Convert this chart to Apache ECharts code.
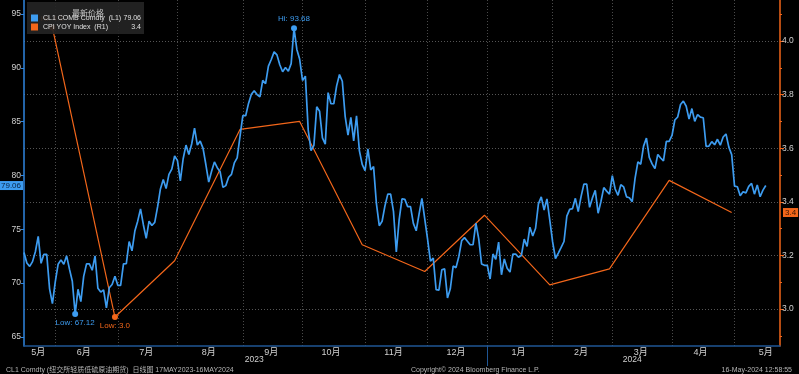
<!DOCTYPE html>
<html><head><meta charset="utf-8">
<script src="https://cdn.jsdelivr.net/npm/echarts@6/dist/echarts.min.js"></script>
<style>html,body{margin:0;padding:0;background:#000}#c{width:799px;height:374px}</style>
</head><body><div id="c"></div>
<script>
// ---- data (weekday closes, CL1 COMB Comdty) ----
const startDate = [2023, 4, 17];   // 17 May 2023 (UTC month index)
const padDays = 5;                  // empty weekdays after the last close
const may23 = [72.83,71.86,71.55,71.99,72.91,74.34,71.83,72.67,72.67,69.46,68.09];
const jun23 = [70.10,71.74,72.15,71.74,72.53,71.29,70.17,67.12,69.42,68.27,70.62,71.78,71.78,71.19,72.53,69.51,69.16,69.37,67.70,69.56,69.86,70.64];
const jul23 = [69.79,69.79,71.79,71.80,73.86,72.99,74.83,75.75,76.89,75.42,74.15,75.75,75.35,75.63,77.07,78.74,79.63,78.78,80.09,80.58,81.80];
const aug23 = [81.37,79.49,81.55,82.82,81.94,82.92,84.40,82.82,83.19,82.51,80.99,79.38,80.39,81.25,80.72,80.35,78.89,79.05,79.83,80.10,81.16,81.63,83.63];
const sep23 = [85.55,85.55,86.69,87.54,87.87,87.51,87.29,88.84,88.52,90.16,90.77,91.48,91.20,90.28,89.63,90.03,89.68,90.39,93.68,91.71,90.79];
const oct23 = [88.82,89.23,84.22,82.31,82.79,86.38,85.97,83.49,82.91,87.69,86.66,86.66,88.32,89.37,88.75,85.49,83.74,85.39,83.21,85.54,82.31,81.02];
const nov23 = [80.44,82.46,80.51,80.82,77.37,75.33,75.74,77.17,78.26,78.26,76.66,72.90,75.89,77.83,77.77,77.10,77.10,75.54,74.86,76.41,77.86,75.96];
const dec23 = [74.07,72.04,72.32,69.38,69.34,71.23,71.32,68.61,69.47,71.58,71.43,72.47,73.94,74.22,73.89,73.56,73.56,75.57,74.11,71.77,71.65];
const jan24 = [71.65,70.38,72.70,72.19,73.81,70.77,72.24,71.37,71.02,72.68,72.68,72.40,72.56,74.08,73.41,75.19,74.37,75.09,77.36,78.01,76.78,77.82,75.85];
const feb24 = [73.82,72.28,72.78,73.31,73.86,76.22,76.84,76.92,77.87,76.64,78.03,79.19,79.19,77.04,77.91,78.61,76.49,77.58,78.87,78.54,78.26];
const mar24 = [79.97,78.74,78.15,79.13,78.93,78.01,77.93,77.56,79.72,81.26,81.04,82.72,83.47,81.68,81.07,80.63,81.95,81.62,81.35,83.17,83.17];
const apr24 = [83.71,85.15,85.43,86.59,86.91,86.43,85.23,86.21,85.02,85.66,85.41,85.36,82.69,82.73,83.14,82.85,83.36,82.81,83.57,83.85,82.63,81.93];
const may24 = [79.00,78.95,78.11,78.48,78.38,78.99,79.26,78.26,79.12,78.02,78.63,79.06];

// ---- CPI YOY (month-end) ----
const cpiDates  = ['2023-05-31','2023-06-30','2023-07-31','2023-08-31','2023-09-29','2023-10-31','2023-11-30','2023-12-29','2024-01-31','2024-02-29','2024-03-29','2024-04-30'];
const cpiValues = [4.05, 2.97, 3.18, 3.67, 3.70, 3.24, 3.14, 3.35, 3.09, 3.15, 3.48, 3.36];

// ---- axis tick labels ----
const leftTicks  = [65, 70, 75, 80, 85, 90, 95];
const rightTicks = [3.0, 3.2, 3.4, 3.6, 3.8, 4.0];
const rightMinor = [2.9, 3.1, 3.3, 3.5, 3.7, 3.9, 4.1];

const blueName = 'CL1 COMB Comdty  (L1)';
const orangeName = 'CPI YOY Index  (R1)';

// ---- build categories ----
const oil = [].concat(may23, jun23, jul23, aug23, sep23, oct23, nov23, dec23, jan24, feb24, mar24, apr24, may24);
const nAxis = oil.length + padDays;
const allDays = [];
{
  const d = new Date(Date.UTC(startDate[0], startDate[1], startDate[2]));
  while (true) {
    const wd = d.getUTCDay();
    if (wd !== 0 && wd !== 6) allDays.push(d.toISOString().slice(0, 10));
    if (allDays.length >= nAxis && d.getUTCMonth() === 4 && d.getUTCFullYear() === 2024 && d.getUTCDate() === 31) break;
    d.setUTCDate(d.getUTCDate() + 1);
  }
}
const cats = allDays.slice(0, nAxis);
const monthStart = new Set(), monthLabel = new Set();
{
  const groups = {};
  allDays.forEach((s, i) => { const k = s.slice(0, 7); (groups[k] = groups[k] || []).push(i); });
  Object.keys(groups).forEach(k => {
    const g = groups[k];
    if (g[0] >= nAxis) return;
    if (g[0] > 0) monthStart.add(g[0]);
    monthLabel.add(Math.floor((g[0] + g[g.length - 1]) / 2));
  });
}
const yearLabel = new Set(), yearStart = new Set();
{
  const ys = {};
  cats.forEach((s, i) => { const k = s.slice(0, 4); (ys[k] = ys[k] || []).push(i); });
  Object.keys(ys).forEach(k => {
    const g = ys[k];
    if (g[0] > 0) yearStart.add(g[0]);
    yearLabel.add(Math.floor((g[0] + g[g.length - 1]) / 2));
  });
}
const cpiSeries = cats.map(() => null);
cpiDates.forEach((d, i) => { const idx = cats.indexOf(d); if (idx >= 0) cpiSeries[idx] = cpiValues[i]; });

const BLUE = '#3d9cf0', ORANGE = '#f2661a';
const lastOil = oil[oil.length - 1];
const lastCpi = cpiValues[cpiValues.length - 1];
const legendVals = {};
legendVals[blueName] = lastOil.toFixed(2);
legendVals[orangeName] = lastCpi.toFixed(1);

const footFont = 'Liberation Sans, Noto Sans CJK SC, sans-serif';
const chart = echarts.init(document.getElementById('c'), null, {renderer: 'canvas'});
chart.setOption({
  backgroundColor: '#000',
  animation: false,
  textStyle: {fontFamily: 'Liberation Sans, Noto Sans CJK SC, sans-serif'},
  grid: {left: 24, right: 19, top: 0, bottom: 28, containLabel: false},
  title: [
    {text: '最新价格', left: 67, top: 4, z: 12, textStyle: {fontSize: 8, color: '#c4c4c4', fontWeight: 'normal', fontFamily: 'Noto Sans CJK SC'}},
    {text: 'CL1 Comdty (纽交所轻质低硫原油期货)  日线图 17MAY2023-16MAY2024', left: 1, top: 362, textStyle: {fontSize: 7, color: '#b5b5b5', fontWeight: 'normal', fontFamily: footFont}},
    {text: 'Copyright© 2024 Bloomberg Finance L.P.', left: 406, top: 362, textStyle: {fontSize: 7, color: '#b5b5b5', fontWeight: 'normal', fontFamily: footFont}},
    {text: '16-May-2024 12:58:55', right: 2, top: 362, textStyle: {fontSize: 7, color: '#b5b5b5', fontWeight: 'normal', fontFamily: footFont}}
  ],
  legend: {
    left: 27, top: 2, z: 10, orient: 'vertical', padding: [12, 3, 3, 4], itemGap: 1,
    itemWidth: 7, itemHeight: 7, icon: 'rect',
    backgroundColor: 'rgba(36,36,36,0.92)',
    data: [blueName, orangeName],
    textStyle: {color: '#e0e0e0', fontSize: 7, lineHeight: 8,
      rich: {n: {width: 81, fontSize: 7, color: '#e0e0e0'}, v: {width: 17, align: 'right', fontSize: 7, color: '#e0e0e0'}}},
    formatter: name => '{n|' + name + '}{v|' + legendVals[name] + '}'
  },
  xAxis: [
    {
      type: 'category', data: cats, boundaryGap: false,
      axisLine: {lineStyle: {color: '#1f5694', width: 1.5}},
      axisTick: {show: false},
      axisLabel: {interval: i => monthLabel.has(i), margin: 2, fontSize: 9, color: '#d0d0d0',
        formatter: v => (+v.slice(5, 7)) + '月'},
      splitLine: {show: true, interval: i => monthStart.has(i), lineStyle: {color: '#4a4a4a', type: [1, 2], width: 1}}
    },
    {
      type: 'category', data: cats, boundaryGap: false, position: 'bottom',
      axisLine: {show: false},
      axisTick: {show: true, interval: i => yearStart.has(i), length: 20, lineStyle: {color: '#1f5694', width: 1}},
      axisLabel: {interval: i => yearLabel.has(i), margin: 9, fontSize: 8.5, color: '#d0d0d0',
        formatter: v => v.slice(0, 4)},
      splitLine: {show: false}
    }
  ],
  yAxis: [
    {
      type: 'value', position: 'left', min: 64.15, max: 96.3,
      axisLine: {show: true, lineStyle: {color: '#2f86e0', width: 1.5}},
      axisTick: {show: true, customValues: leftTicks, length: 3, lineStyle: {color: '#2f86e0'}},
      axisLabel: {customValues: leftTicks, fontSize: 8.5, color: '#d0d0d0', margin: 3},
      splitLine: {show: false}
    },
    {
      type: 'value', position: 'right', min: 2.862, max: 4.153,
      axisLine: {show: true, lineStyle: {color: ORANGE, width: 1.5}},
      axisTick: {show: true, customValues: rightTicks, length: 4, lineStyle: {color: ORANGE}},
      axisLabel: {customValues: rightTicks, fontSize: 8.5, color: '#d0d0d0', margin: 2, formatter: v => v.toFixed(1)},
      splitLine: {show: true, lineStyle: {color: '#555', type: [1, 2], width: 1}}
    },
    {
      type: 'value', position: 'right', min: 2.862, max: 4.153,
      axisLine: {show: false},
      axisTick: {show: true, customValues: rightMinor, length: 2, lineStyle: {color: ORANGE}},
      axisLabel: {show: false},
      splitLine: {show: false}
    }
  ],
  series: [
    {
      name: blueName, type: 'line', data: oil, xAxisIndex: 0, yAxisIndex: 0,
      showSymbol: false, symbol: 'none', color: BLUE,
      lineStyle: {color: BLUE, width: 1.7}, z: 3,
      markPoint: {
        symbol: 'circle', symbolSize: 6, itemStyle: {color: BLUE},
        label: {fontSize: 8, color: BLUE},
        data: [
          {type: 'max', name: 'Hi', label: {position: 'top', distance: 2, formatter: p => 'Hi: ' + p.value.toFixed(2)}},
          {type: 'min', name: 'Low', label: {position: 'bottom', distance: 2, formatter: p => 'Low: ' + p.value.toFixed(2)}}
        ]
      },
      markLine: {
        silent: true, symbol: 'none', lineStyle: {color: 'rgba(0,0,0,0)', width: 0},
        label: {show: true, position: 'start', distance: 1, fontSize: 8, color: '#0b2340', backgroundColor: BLUE, padding: [1, 2, 0, 1],
          formatter: p => p.value.toFixed(2)},
        data: [{yAxis: lastOil}]
      }
    },
    {
      name: orangeName, type: 'line', data: cpiSeries, xAxisIndex: 0, yAxisIndex: 1,
      connectNulls: true, showSymbol: false, symbol: 'none', color: ORANGE,
      lineStyle: {color: ORANGE, width: 1.2}, z: 2,
      markPoint: {
        symbol: 'circle', symbolSize: 6, itemStyle: {color: ORANGE},
        label: {fontSize: 8, color: ORANGE},
        data: [
          {type: 'max', name: 'Hi', label: {position: 'top', distance: 2, formatter: p => 'Hi: ' + p.value.toFixed(1)}},
          {type: 'min', name: 'Low', label: {position: 'bottom', distance: 2, formatter: p => 'Low: ' + p.value.toFixed(1)}}
        ]
      },
      markLine: {
        silent: true, symbol: 'none', lineStyle: {color: 'rgba(0,0,0,0)', width: 0},
        label: {show: true, position: 'end', distance: 3, fontSize: 8, color: '#3a1400', backgroundColor: ORANGE, padding: [1, 2, 0, 2],
          formatter: p => p.value.toFixed(1)},
        data: [{yAxis: lastCpi}]
      }
    }
  ]
});
</script>
</body></html>
